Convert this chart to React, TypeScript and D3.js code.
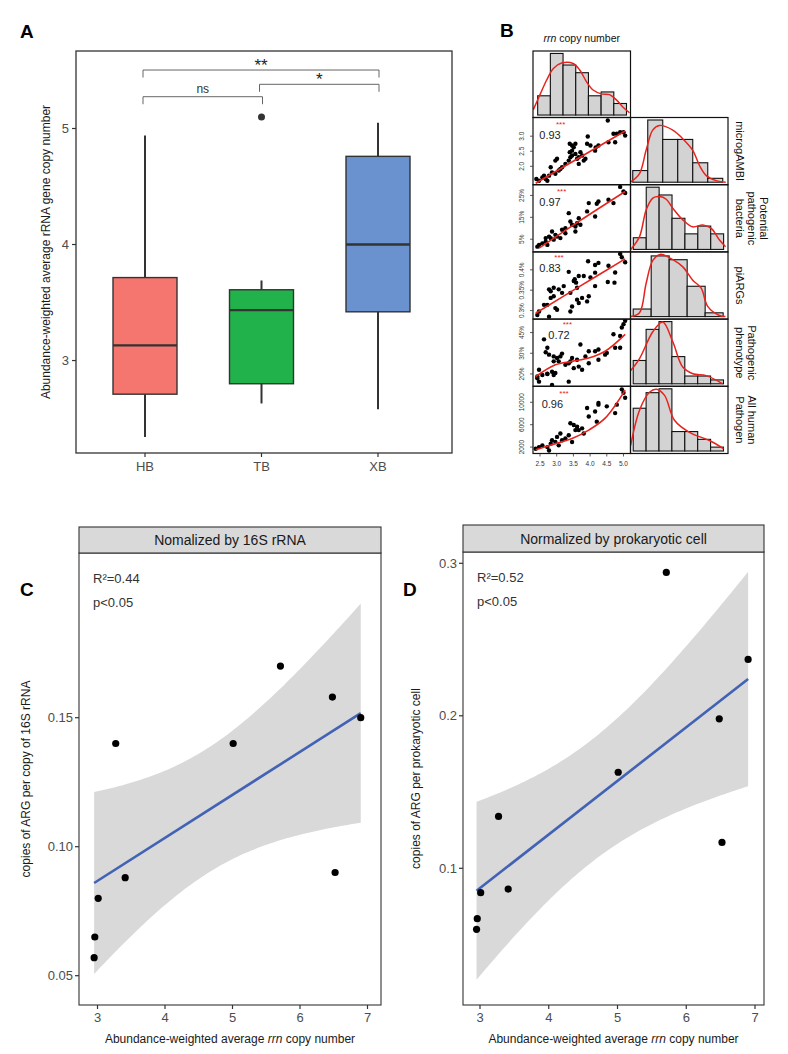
import React from "react";
import * as d3 from "d3";

const FONT = "'Liberation Sans', Arial, Helvetica, sans-serif";

// ---------------- Panel A data ----------------
const groups = ["HB", "TB", "XB"];
const groupColors = ["#F4766F", "#22B24C", "#6A92CE"];
const boxMin = [2.34, 2.63, 2.58];
const boxQ1 = [2.71, 2.8, 3.42];
const boxMed = [3.13, 3.435, 4.0];
const boxQ3 = [3.715, 3.61, 4.76];
const boxMax = [4.94, 3.69, 5.05];
const outlierGroup = ["TB"];
const outlierValue = [5.1];
const yTicksA = [3, 4, 5];
const sigFrom = [0, 1, 0];
const sigTo = [2, 2, 1];
const sigLevel = [5.504, 5.381, 5.274];
const sigLabel = ["**", "*", "ns"];

// ---------------- Panel B data ----------------
const rrnTicks = [2.5, 3.0, 3.5, 4.0, 4.5, 5.0];
const rrnHistEdges = [2.43, 2.81, 3.19, 3.57, 3.95, 4.33, 4.71, 5.09];
const rrnHistCounts = [5, 16, 13, 11, 5, 6, 3];
const rrnDensity: [number, number][] = [
  [2.3, 1.4], [2.5, 5.3], [2.7, 9.1], [2.9, 12.1], [3.15, 13.5], [3.49, 13.4], [3.69, 11.7],
  [3.89, 8.7], [4.09, 6.5], [4.34, 5.5], [4.58, 5.3], [4.78, 4.0], [4.98, 2.1], [5.18, 0.6],
];

const rowNames = [
  ["microgAMBI"],
  ["Potential", "pathogenic", "bacteria"],
  ["piARGs"],
  ["Pathogenic", "phenotype"],
  ["All human", "Pathogen"],
];
const rowCorr = ["0.93", "0.97", "0.83", "0.72", "0.96"];
const rowTicks = [[2.0, 2.5, 3.0], [5, 15, 25], [0.3, 0.35, 0.4], [20, 30, 45], [2000, 6000, 10000]];
const rowTickLabels = [["2.0", "2.5", "3.0"], ["5%", "15%", "25%"], ["0.3%", "0.35%", "0.4%"], ["20%", "30%", "45%"], ["2000", "6000", "10000"]];
const rowDomains = [[1.39, 3.62], [-0.8, 29.9], [0.279, 0.444], [15.7, 58.6], [855, 12855]];
const rowLog = [false, false, false, true, false];

const scatter1: [number, number][] = [
  [2.39, 1.58], [2.47, 1.52], [2.57, 1.63], [2.67, 1.58], [2.72, 1.52], [2.62, 1.69], [2.77, 1.69], [2.86, 1.8],
  [2.96, 1.75], [3.06, 1.86], [2.82, 1.97], [2.96, 2.19], [3.01, 2.25], [3.11, 1.91], [3.16, 1.97], [3.26, 2.08],
  [3.36, 2.19], [3.41, 2.3], [3.46, 2.36], [3.39, 2.47], [3.39, 2.75], [3.46, 2.69], [3.51, 2.63], [3.56, 2.75],
  [3.46, 2.52], [3.56, 2.41], [3.61, 2.25], [3.66, 2.3], [3.71, 2.47], [3.76, 2.36], [3.81, 2.19], [3.86, 2.25],
  [3.66, 2.08], [3.93, 2.99], [3.91, 2.75], [4.01, 2.69], [4.15, 2.52], [4.17, 2.63], [4.25, 2.69], [4.55, 2.8],
  [4.53, 3.52], [4.7, 3.08], [4.8, 3.08], [4.9, 3.13], [5.0, 3.13], [5.05, 3.02], [4.75, 2.8],
];
const scatter2: [number, number][] = [
  [4.9, 28.9], [5.0, 26.8], [5.05, 26.1], [4.55, 23.0], [4.7, 21.5], [4.25, 22.2], [4.2, 21.2], [3.96, 21.5],
  [3.91, 17.7], [4.15, 15.4], [3.66, 14.6], [3.61, 12.3], [3.56, 10.8], [3.36, 16.9], [3.41, 13.1], [3.46, 11.6],
  [3.71, 11.6], [3.26, 10.0], [3.16, 9.3], [2.86, 8.5], [2.96, 7.0], [2.77, 6.2], [2.67, 5.5], [2.42, 1.6],
  [2.47, 2.4], [2.57, 3.1], [2.67, 3.9], [2.72, 2.4], [2.82, 5.5], [2.91, 4.8], [3.01, 6.2], [3.11, 5.5],
  [3.26, 7.7], [3.56, 8.5],
];
const scatter3: [number, number][] = [
  [2.42, 0.289], [2.47, 0.2975], [2.77, 0.285], [2.62, 0.314], [2.72, 0.314], [2.82, 0.331], [2.91, 0.335],
  [2.96, 0.306], [3.01, 0.302], [2.82, 0.3475], [2.77, 0.352], [2.91, 0.356], [3.06, 0.352], [3.16, 0.3435],
  [3.21, 0.36], [3.36, 0.395], [3.41, 0.3435], [3.41, 0.2975], [3.46, 0.31], [3.51, 0.3725], [3.54, 0.3768],
  [3.58, 0.3685], [3.61, 0.356], [3.66, 0.385], [3.81, 0.385], [3.61, 0.3268], [3.66, 0.3185], [3.76, 0.331],
  [3.91, 0.3225], [3.96, 0.335], [4.01, 0.381], [4.15, 0.36], [3.94, 0.421], [4.15, 0.412], [4.25, 0.417],
  [4.55, 0.41], [4.75, 0.3935], [4.53, 0.37], [4.73, 0.3685], [4.9, 0.439], [4.95, 0.431], [5.05, 0.4185],
  [4.15, 0.393],
];
const scatter4: [number, number][] = [
  [2.62, 39.4], [2.72, 33.4], [2.67, 30.6], [2.77, 29.2], [2.91, 28.2], [3.01, 27.3], [3.11, 28.2], [3.16, 29.8],
  [2.91, 25.6], [3.06, 25.6], [3.46, 27.3], [3.41, 25.6], [3.71, 35.6], [3.61, 26.4], [3.86, 28.2], [3.96, 31.2],
  [4.15, 31.2], [4.25, 32.3], [4.5, 30.2], [4.75, 33.4], [4.9, 33.4], [4.7, 43.5], [4.9, 42.1], [4.95, 49.7],
  [5.0, 53.1], [5.05, 56.7], [2.47, 21.7], [2.42, 19.0], [2.57, 19.6], [2.72, 20.0], [2.86, 20.9], [2.96, 20.4],
  [3.26, 23.9], [3.36, 24.7], [3.51, 22.4], [3.66, 23.1], [3.76, 21.7], [3.96, 24.7], [4.25, 26.4], [4.45, 29.2],
  [2.42, 18.4], [2.47, 17.2], [2.72, 20.1], [2.86, 16.1], [3.36, 17.2], [2.91, 19.6],
];
const scatter5: [number, number][] = [
  [2.37, 1709], [2.47, 2000], [2.57, 2309], [2.72, 2000], [2.82, 2618], [2.86, 3218], [2.96, 2909], [3.01, 3818],
  [3.06, 2309], [3.16, 3218], [3.11, 4436], [3.26, 3527], [3.36, 4127], [3.41, 6254], [3.51, 5945], [3.61, 5636],
  [3.56, 5036], [3.66, 5036], [3.46, 2909], [3.76, 5345], [3.81, 4436], [3.91, 8981], [4.15, 8363], [4.2, 6545],
  [4.25, 9581], [4.25, 9890], [4.5, 9272], [4.75, 8072], [4.8, 9581], [4.95, 12309], [5.0, 11709], [5.05, 10800],
  [3.96, 7454], [2.77, 1400],
];
const scatterRows = [scatter1, scatter2, scatter3, scatter4, scatter5];

const smooth1: [number, number][] = [[2.37, 1.44], [3.7, 2.3], [5.05, 3.17]];
const smooth2: [number, number][] = [[2.47, 0.9], [3.7, 13.5], [5.05, 26.8]];
const smooth3: [number, number][] = [[2.37, 0.2935], [3.7, 0.36], [5.05, 0.4268]];
const smooth4: [number, number][] = [[2.37, 18.95], [2.96, 23.9], [3.46, 25.6], [3.96, 27.3], [4.45, 31.2], [5.05, 43.5]];
const smooth5: [number, number][] = [[2.37, 1527], [2.96, 2618], [3.46, 3527], [3.96, 5036], [4.45, 7164], [5.05, 12180]];
const smoothRows = [smooth1, smooth2, smooth3, smooth4, smooth5];

// right-column histograms: counts per bin, x in bin units
const histCounts = [
  [3, 16, 11, 11, 5, 1],
  [3, 16, 14, 8, 4, 6, 4],
  [2, 16, 15, 8, 1],
  [6, 14, 16, 7, 2, 2, 1],
  [11, 15, 16, 5, 5, 3, 1],
];
const histDomains = [[-0.15, 6.35], [-0.22, 7.34], [-0.15, 5.27], [-0.21, 7.35], [-0.21, 7.35]];
const histDensity: [number, number][][] = [
  [[-0.15, 0], [0.45, 2.2], [0.89, 8.2], [1.33, 13.4], [1.78, 14.6], [2.67, 13.4], [3.33, 11.2], [4.0, 8.2], [4.45, 4.3], [4.9, 1.7], [5.56, 0.4], [6.2, 0]],
  [[-0.2, 0], [0.48, 3.3], [1.0, 10.2], [1.51, 13.2], [2.03, 13.6], [2.55, 12.9], [3.06, 10.6], [3.84, 7.6], [4.61, 5.8], [5.39, 6.3], [6.04, 5.4], [6.68, 2.4], [7.15, 0.7]],
  [[-0.15, 0], [0.35, 1.0], [0.72, 8.8], [1.09, 14.8], [1.5, 16.4], [2.2, 15.0], [2.76, 13.1], [3.31, 9.6], [3.78, 7.5], [4.14, 2.7], [4.79, 0.3], [5.13, 0]],
  [[-0.2, 3.4], [0.49, 6.5], [1.52, 13.4], [2.29, 15.9], [3.07, 10.8], [3.84, 4.3], [4.62, 2.6], [5.66, 2.1], [6.95, 0]],
  [[-0.2, 1.4], [0.49, 10.5], [1.26, 15.1], [1.8, 15.9], [2.43, 14.3], [3.2, 7.9], [4.36, 4.8], [5.91, 2.7], [7.0, 0.6]],
];

// ---------------- Panels C / D data ----------------
const rrnSamples = [2.95, 2.96, 3.01, 3.27, 3.41, 5.01, 5.71, 6.48, 6.52, 6.9];
const argPer16S = [0.057, 0.065, 0.08, 0.14, 0.088, 0.14, 0.17, 0.158, 0.09, 0.15];
const argPerCell = [0.06, 0.067, 0.084, 0.134, 0.0864, 0.163, 0.294, 0.198, 0.117, 0.237];
const xTicksCD = [3, 4, 5, 6, 7];
const yTicksC = [0.05, 0.1, 0.15];
const yTicksD = [0.1, 0.2, 0.3];

// ---------------- helpers ----------------
function PanelA() {
  const L = 76, R = 452, T = 51, B = 453;
  const y = d3.scaleLinear().domain([2.203, 5.668]).range([B, T]);
  const x = d3.scalePoint<string>().domain(groups).range([145, 378]);
  const hw = 32;
  const tk = 7.5;
  return (
    <g>
      <text x={20} y={38} fontSize={19} fontWeight="bold" fill="#000">A</text>
      <rect x={L} y={T} width={R - L} height={B - T} fill="none" stroke="#333" strokeWidth={1.3} />
      {yTicksA.map((t) => (
        <g key={t}>
          <line x1={L - 4} x2={L} y1={y(t)} y2={y(t)} stroke="#333" strokeWidth={1.2} />
          <text x={L - 7} y={y(t)} dy="0.35em" textAnchor="end" fontSize={13} fill="#4d4d4d">{t}</text>
        </g>
      ))}
      {groups.map((g) => (
        <g key={g}>
          <line x1={x(g)} x2={x(g)} y1={B} y2={B + 4} stroke="#333" strokeWidth={1.2} />
          <text x={x(g)} y={B + 18} textAnchor="middle" fontSize={13} fill="#4d4d4d">{g}</text>
        </g>
      ))}
      <text transform={`translate(50,${(T + B) / 2}) rotate(-90)`} textAnchor="middle" fontSize={12} fill="#1a1a1a">
        Abundance-weighted average rRNA gene copy number
      </text>
      {groups.map((g, i) => {
        const cx = x(g) as number;
        return (
          <g key={g}>
            <line x1={cx} x2={cx} y1={y(boxMax[i])} y2={y(boxQ3[i])} stroke="#333" strokeWidth={2} />
            <line x1={cx} x2={cx} y1={y(boxQ1[i])} y2={y(boxMin[i])} stroke="#333" strokeWidth={2} />
            <rect x={cx - hw} y={y(boxQ3[i])} width={hw * 2} height={y(boxQ1[i]) - y(boxQ3[i])} fill={groupColors[i]} stroke="#333" strokeWidth={1.4} />
            <line x1={cx - hw} x2={cx + hw} y1={y(boxMed[i])} y2={y(boxMed[i])} stroke="#333" strokeWidth={2.3} />
          </g>
        );
      })}
      {outlierGroup.map((g, i) => (
        <circle key={i} cx={x(g)} cy={y(outlierValue[i])} r={3.5} fill="#333" />
      ))}
      {sigLabel.map((lab, i) => {
        const x1 = (x(groups[sigFrom[i]]) as number) - 2;
        const x2 = (x(groups[sigTo[i]]) as number) + 1;
        const yy = y(sigLevel[i]);
        return (
          <g key={i}>
            <path d={`M${x1},${yy + tk}V${yy}H${x2}V${yy + tk}`} fill="none" stroke="#666" strokeWidth={1} />
            {lab === "ns" ? (
              <text x={(x1 + x2) / 2} y={yy - 4} textAnchor="middle" fontSize={12} fill="#333">{lab}</text>
            ) : (
              <text x={(x1 + x2) / 2} y={yy + 1} textAnchor="middle" fontSize={17} fill="#222">{lab}</text>
            )}
          </g>
        );
      })}
    </g>
  );
}

function PanelB() {
  const x0 = 533, cw = 97.5;
  const topT = 51, rowT = 117.5, rh = 67.2;
  const xs = d3.scaleLinear().domain([2.29, 5.21]).range([x0, x0 + cw]);
  const histY = (top: number, M: number) =>
    d3.scaleLinear().domain([-0.04 * M, 1.04 * M]).range([top + rh, top]);
  const line = d3.line().curve(d3.curveCatmullRom.alpha(0.5));
  const red = "#E8231D";
  const topH = topT + 66.5;
  const tyM = Math.max(d3.max(rrnHistCounts)!, d3.max(rrnDensity, (d) => d[1])!);
  const ty = d3.scaleLinear().domain([-0.04 * tyM, 1.04 * tyM]).range([topH, topT]);
  const corrOff = [[6.3, 21], [6.3, 21], [6.3, 20], [15.3, 19.6], [8.7, 22]];
  const starOff = [[23, 9], [24, 9], [21.3, 8.5], [29.7, 8.2], [26.3, 9.5]];
  const lineGap = 12;
  return (
    <g>
      <defs>
        <clipPath id="clipTop"><rect x={x0} y={topT} width={cw} height={topH - topT} /></clipPath>
        {rowNames.map((_, i) => (
          <clipPath key={i} id={`clipR${i}`}><rect x={x0 + cw} y={rowT + i * rh} width={cw} height={rh} /></clipPath>
        ))}
        {rowNames.map((_, i) => (
          <clipPath key={i} id={`clipS${i}`}><rect x={x0} y={rowT + i * rh} width={cw} height={rh} /></clipPath>
        ))}
      </defs>
      <text x={500} y={37} fontSize={19} fontWeight="bold" fill="#000">B</text>
      <text x={x0 + cw / 2} y={42} textAnchor="middle" fontSize={10.5} fill="#111">
        <tspan fontStyle="italic">rrn</tspan> copy number
      </text>
      <g clipPath="url(#clipTop)">
        {rrnHistCounts.map((c, i) => (
          <rect key={i} x={xs(rrnHistEdges[i])} y={ty(c)} width={xs(rrnHistEdges[i + 1]) - xs(rrnHistEdges[i])} height={ty(0) - ty(c)} fill="#d3d3d3" stroke="#111" strokeWidth={1.1} />
        ))}
        <path d={line(rrnDensity.map((d) => [xs(d[0]), ty(d[1])]))!} fill="none" stroke={red} strokeWidth={1.5} />
      </g>
      <rect x={x0} y={topT} width={cw} height={topH - topT} fill="none" stroke="#111" strokeWidth={1.2} />
      {rowNames.map((names, i) => {
        const top = rowT + i * rh;
        const dom = rowDomains[i];
        const ys = rowLog[i]
          ? d3.scaleLog().domain(dom).range([top + rh, top])
          : d3.scaleLinear().domain(dom).range([top + rh, top]);
        const counts = histCounts[i];
        const dens = histDensity[i];
        const M = Math.max(d3.max(counts)!, d3.max(dens, (d) => d[1])!);
        const hy = histY(top, M);
        const hx = d3.scaleLinear().domain(histDomains[i]).range([x0 + cw, x0 + 2 * cw]);
        const n = names.length;
        return (
          <g key={i}>
            <g clipPath={`url(#clipS${i})`}>
              {scatterRows[i].map((p, j) => (
                <circle key={j} cx={xs(p[0])} cy={ys(p[1])} r={2.2} fill="#000" />
              ))}
              <path d={line(smoothRows[i].map((d) => [xs(d[0]), ys(d[1])]))!} fill="none" stroke={red} strokeWidth={1.6} />
            </g>
            <rect x={x0} y={top} width={cw} height={rh} fill="none" stroke="#111" strokeWidth={1.2} />
            <text x={x0 + corrOff[i][0]} y={top + corrOff[i][1]} fontSize={11} fill="#222">{rowCorr[i]}</text>
            <text x={x0 + starOff[i][0]} y={top + starOff[i][1]} fontSize={8} fill={red}>***</text>
            {rowTicks[i].map((t, k) => (
              <g key={k}>
                <line x1={x0 - 3} x2={x0} y1={ys(t)} y2={ys(t)} stroke="#333" strokeWidth={0.8} />
                <text transform={`translate(${x0 - 9},${ys(t)}) rotate(-90)`} textAnchor="middle" fontSize={6.5} fill="#333">{rowTickLabels[i][k]}</text>
              </g>
            ))}
            <g clipPath={`url(#clipR${i})`}>
              {counts.map((c, k) => (
                <rect key={k} x={hx(k)} y={hy(c)} width={hx(k + 1) - hx(k)} height={hy(0) - hy(c)} fill="#d3d3d3" stroke="#111" strokeWidth={1.1} />
              ))}
              <path d={line(dens.map((d) => [hx(d[0]), hy(d[1])]))!} fill="none" stroke={red} strokeWidth={1.5} />
            </g>
            <rect x={x0 + cw} y={top} width={cw} height={rh} fill="none" stroke="#111" strokeWidth={1.2} />
            <text transform={`translate(${x0 + 2 * cw + 8},${top + rh / 2}) rotate(90)`} textAnchor="middle" fontSize={11} fill="#111">
              {names.map((nm, k) => (
                <tspan key={k} x={0} dy={k === 0 ? -(n - 1) * lineGap : lineGap}>{nm}</tspan>
              ))}
            </text>
          </g>
        );
      })}
      {rrnTicks.map((t) => (
        <g key={t}>
          <line x1={xs(t)} x2={xs(t)} y1={rowT + 5 * rh} y2={rowT + 5 * rh + 3} stroke="#333" strokeWidth={0.8} />
          <text x={xs(t)} y={rowT + 5 * rh + 12} textAnchor="middle" fontSize={6.5} fill="#333">{t.toFixed(1)}</text>
        </g>
      ))}
    </g>
  );
}

function linReg(xs: number[], ys: number[]) {
  const n = xs.length;
  const mx = d3.mean(xs)!, my = d3.mean(ys)!;
  let sxx = 0, sxy = 0, syy = 0;
  for (let i = 0; i < n; i++) {
    sxx += (xs[i] - mx) ** 2;
    sxy += (xs[i] - mx) * (ys[i] - my);
    syy += (ys[i] - my) ** 2;
  }
  const b = sxy / sxx;
  const a = my - b * mx;
  const s = Math.sqrt((syy - b * sxy) / (n - 2));
  return { a, b, s, mx, sxx, n };
}

type RegCfg = {
  L: number; R: number; T: number; S: number; B: number;
  x3: number; x7: number; yLo: [number, number]; yHi: [number, number];
  ys: number[]; yTicks: number[]; yFmt: (v: number) => string;
  title: string; yTitle: string; yTitleX: number; r2: string; letter: string; letterX: number;
};

function RegPanel({ c }: { c: RegCfg }) {
  const x = d3.scaleLinear().domain([3, 7]).range([c.x3, c.x7]);
  const y = d3.scaleLinear().domain([c.yLo[0], c.yHi[0]]).range([c.yLo[1], c.yHi[1]]);
  const fit = linReg(rrnSamples, c.ys);
  const t = 2.306; // qt(0.975, 8)
  const [xmin, xmax] = d3.extent(rrnSamples) as [number, number];
  const grid = d3.range(0, 81).map((i) => xmin + ((xmax - xmin) * i) / 80);
  const band = grid.map((xv) => {
    const yh = fit.a + fit.b * xv;
    const se = fit.s * Math.sqrt(1 / fit.n + (xv - fit.mx) ** 2 / fit.sxx);
    return { xv, lo: yh - t * se, hi: yh + t * se };
  });
  const area = d3.area<{ xv: number; lo: number; hi: number }>()
    .x((d) => x(d.xv)).y0((d) => y(d.lo)).y1((d) => y(d.hi));
  const id = `clip${c.letter}`;
  return (
    <g>
      <defs>
        <clipPath id={id}><rect x={c.L} y={c.S} width={c.R - c.L} height={c.B - c.S} /></clipPath>
      </defs>
      <text x={c.letterX} y={596} fontSize={19} fontWeight="bold" fill="#000">{c.letter}</text>
      <g clipPath={`url(#${id})`}>
        <path d={area(band)!} fill="#d9d9d9" />
        <line x1={x(xmin)} x2={x(xmax)} y1={y(fit.a + fit.b * xmin)} y2={y(fit.a + fit.b * xmax)} stroke="#4262B4" strokeWidth={2.6} />
        {rrnSamples.map((xv, i) => (
          <circle key={i} cx={x(xv)} cy={y(c.ys[i])} r={3.6} fill="#000" />
        ))}
      </g>
      <rect x={c.L} y={c.S} width={c.R - c.L} height={c.B - c.S} fill="none" stroke="#333" strokeWidth={1.1} />
      <rect x={c.L} y={c.T} width={c.R - c.L} height={c.S - c.T} fill="#d9d9d9" stroke="#333" strokeWidth={1.1} />
      <text x={(c.L + c.R) / 2} y={(c.T + c.S) / 2} dy="0.36em" textAnchor="middle" fontSize={14} fill="#1a1a1a">{c.title}</text>
      <text x={c.L + 14} y={c.S + 30} fontSize={13} fill="#333">R²={c.r2}</text>
      <text x={c.L + 14} y={c.S + 54} fontSize={13} fill="#333">p&lt;0.05</text>
      {c.yTicks.map((tv) => (
        <g key={tv}>
          <line x1={c.L - 4} x2={c.L} y1={y(tv)} y2={y(tv)} stroke="#333" strokeWidth={1.2} />
          <text x={c.L - 6} y={y(tv)} dy="0.35em" textAnchor="end" fontSize={13} fill="#4d4d4d">{c.yFmt(tv)}</text>
        </g>
      ))}
      {xTicksCD.map((tv) => (
        <g key={tv}>
          <line x1={x(tv)} x2={x(tv)} y1={c.B} y2={c.B + 4} stroke="#333" strokeWidth={1.2} />
          <text x={x(tv)} y={c.B + 17} textAnchor="middle" fontSize={13} fill="#4d4d4d">{tv}</text>
        </g>
      ))}
      <text x={(c.L + c.R) / 2} y={c.B + 38} textAnchor="middle" fontSize={12} fill="#1a1a1a">
        Abundance-weighted average <tspan fontStyle="italic">rrn</tspan> copy number
      </text>
      <text transform={`translate(${c.yTitleX},${(c.S + c.B) / 2}) rotate(-90)`} textAnchor="middle" fontSize={12} fill="#1a1a1a">{c.yTitle}</text>
    </g>
  );
}

const cfgC: RegCfg = {
  L: 79, R: 381, T: 527, S: 553, B: 1005, x3: 97.5, x7: 367.5,
  yLo: [0.05, 975.7], yHi: [0.15, 717.7], ys: argPer16S, yTicks: yTicksC,
  yFmt: (v) => v.toFixed(2), title: "Nomalized by 16S rRNA", yTitle: "copies of ARG per copy of 16S rRNA",
  yTitleX: 30, r2: "0.44", letter: "C", letterX: 20,
};
const cfgD: RegCfg = {
  L: 463, R: 764, T: 525, S: 552, B: 1005, x3: 480, x7: 755,
  yLo: [0.1, 868.3], yHi: [0.3, 563.3], ys: argPerCell, yTicks: yTicksD,
  yFmt: (v) => v.toFixed(1), title: "Normalized by prokaryotic cell", yTitle: "copies of ARG per prokaryotic cell",
  yTitleX: 420, r2: "0.52", letter: "D", letterX: 403,
};

export default function App() {
  return (
    <svg width={788} height={1054} style={{ position: "absolute", left: 0, top: 0 }} fontFamily={FONT}>
      <rect width={788} height={1054} fill="#fff" />
      <PanelA />
      <PanelB />
      <RegPanel c={cfgC} />
      <RegPanel c={cfgD} />
    </svg>
  );
}
